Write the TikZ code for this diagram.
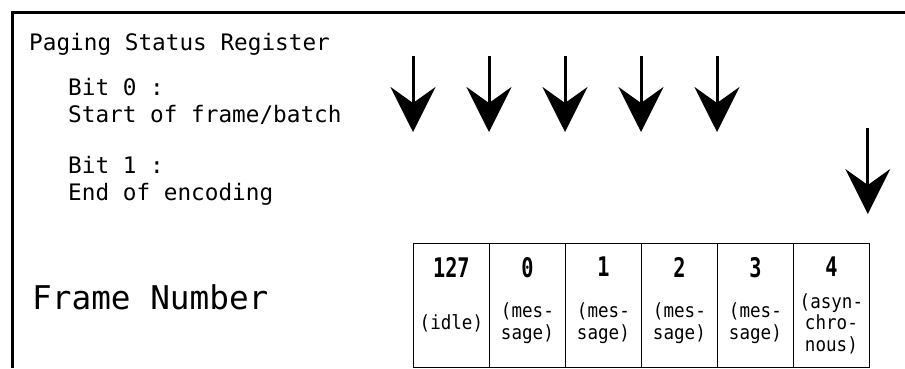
\documentclass[tikz,border=0pt]{standalone}
\usepackage{fontspec}
\setmainfont{DejaVu Sans Mono}
\newfontfamily\numfont{DejaVu Sans Mono Bold}[FakeStretch=0.75]
\newfontfamily\notefont{DejaVu Sans Mono}[FakeStretch=0.9]
\usepackage{tikz}
\usetikzlibrary{arrows.meta,positioning}

\begin{document}
\begin{tikzpicture}[x=1pt, y=-1pt,
  txt/.style={anchor=base west, inner sep=0pt, font=\fontsize{22.7}{27}\selectfont},
  cell/.style={draw, line width=0.8pt, minimum width=76pt, minimum height=124pt, inner sep=0pt, anchor=north west},
  num/.style={inner sep=0pt, font=\numfont\fontsize{27}{27}\selectfont},
  note/.style={inner sep=0pt, align=center, font=\notefont\fontsize{19.5}{21.5}\selectfont},
  marker/.style={line width=3pt, -{Stealth[length=45pt, width=45pt, inset=16pt]}}]
  \useasboundingbox (0,0) rectangle (905,368);

  % frame (top and left edge only)
  \draw[line width=3pt] (12,368) -- (12,12) -- (905,12);

  % register description
  \node[txt] (reg) at (29,50) {Paging Status Register};
  \node[txt] (bit0) at (68,95) {Bit 0 :};
  \node[txt] (bit0d) at (68,122) {Start of frame/batch};
  \node[txt] (bit1) at (68,173) {Bit 1 :};
  \node[txt] (bit1d) at (68,200) {End of encoding};
  \node[txt, font=\fontsize{32.7}{36}\selectfont] (fn) at (32,309) {Frame Number};

  % frame number table
  \foreach \n/\t [count=\i from 0] in {127/{(idle)}, 0/{(mes-\\sage)}, 1/{(mes-\\sage)},
      2/{(mes-\\sage)}, 3/{(mes-\\sage)}, 4/{(asyn-\\chro-\\nous)}} {
    \node[cell] (c\i) at (413+76*\i,243) {};
    \node[num, below=14pt of c\i.north] (n\i) {\n};
    \node[note] (s\i) at ([yshift=-18pt]c\i.center) {\t};
  }

  % status bit markers
  \foreach \i in {0,...,4} {
    \coordinate (a\i) at (c\i.north west |- 0,56);
    \coordinate (b\i) at (c\i.north west |- 0,132);
    \draw[marker] (a\i) -- (b\i);
  }
  \coordinate (a5) at ([xshift=-2pt]c5.north east |- 0,128);
  \coordinate (b5) at ([xshift=-2pt]c5.north east |- 0,214);
  \draw[marker] (a5) -- (b5);
\end{tikzpicture}
\end{document}
